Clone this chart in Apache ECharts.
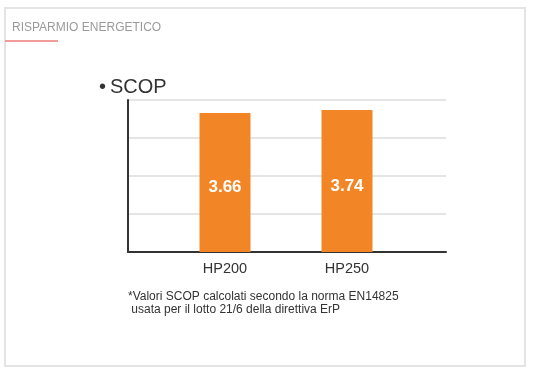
<!DOCTYPE html>
<html lang="it">
<head>
  <meta charset="UTF-8">
  <title>Risparmio energetico</title>
  <style>
    html, body { margin: 0; padding: 0; background: #fff; }
    #main { width: 533px; height: 377px; }
  </style>
</head>
<body>
  <div id="main"></div>
  <script src="https://cdn.jsdelivr.net/npm/echarts@6/dist/echarts.min.js"></script>
  <script>
    var categories = ['HP200', 'HP250']
    var scopValues = [3.66, 3.74]
    var yTicks = [0, 1, 2, 3, 4]

    var font = 'Liberation Sans, Arial, sans-serif'
    var myChart = echarts.init(document.getElementById('main'))

    var options = {
      animation: false,
      backgroundColor: '#fff',
      grid: [
        // griglia di sfondo con assi e linee
        { left: 128, right: 87, top: 100, bottom: 125 },
        // griglia per le barre
        { left: 164, right: 125, top: 100, bottom: 125 }
      ],
      xAxis: [
        {
          gridIndex: 0, type: 'category', data: [''],
          axisLine: { lineStyle: { color: '#333', width: 2 } },
          axisTick: { show: false }, axisLabel: { show: false }
        },
        {
          gridIndex: 1, type: 'category', data: categories,
          axisLine: { show: false }, axisTick: { show: false },
          axisLabel: { margin: 9, fontSize: 14.5, color: '#333', fontFamily: font }
        }
      ],
      yAxis: [
        {
          gridIndex: 0, type: 'value',
          min: yTicks[0], max: yTicks[yTicks.length - 1], interval: 1,
          axisLine: { show: true, lineStyle: { color: '#333', width: 2 } },
          axisTick: { show: false }, axisLabel: { show: false },
          splitLine: { lineStyle: { color: '#dcdcdc', width: 1.5 } }
        },
        {
          gridIndex: 1, type: 'value',
          min: yTicks[0], max: yTicks[yTicks.length - 1], interval: 1,
          show: false, splitLine: { show: false }
        }
      ],
      series: [
        {
          type: 'bar',
          xAxisIndex: 1, yAxisIndex: 1,
          data: scopValues,
          barWidth: 51,
          itemStyle: { color: '#f28627' },
          label: {
            show: true, position: 'inside', offset: [0, 5],
            color: '#fff', fontSize: 17, fontWeight: 'bold', fontFamily: font,
            formatter: function (p) { return p.value.toFixed(2) }
          }
        }
      ],
      graphic: [
        {
          type: 'rect', silent: true,
          shape: { x: 5, y: 8, width: 520, height: 358 },
          style: { fill: 'none', stroke: '#e4e4e4', lineWidth: 2 }
        },
        {
          type: 'text', left: 12, top: 22,
          style: { text: 'RISPARMIO ENERGETICO', fill: '#9a9a9a', font: '12px ' + font }
        },
        {
          type: 'line', silent: true,
          shape: { x1: 5, y1: 41, x2: 58, y2: 41 },
          style: { stroke: '#ee7b7b', lineWidth: 1.5 }
        },
        {
          type: 'text', left: 99, top: 77,
          style: { text: '\u2022\u2009SCOP', fill: '#333', font: '20px ' + font }
        },
        {
          type: 'text', left: 128, top: 290,
          style: {
            text: '*Valori SCOP calcolati secondo la norma EN14825\n usata per il lotto 21/6 della direttiva ErP',
            fill: '#333', font: '12px ' + font, lineHeight: 13
          }
        }
      ]
    }

    myChart.setOption(options)
  </script>
</body>
</html>
